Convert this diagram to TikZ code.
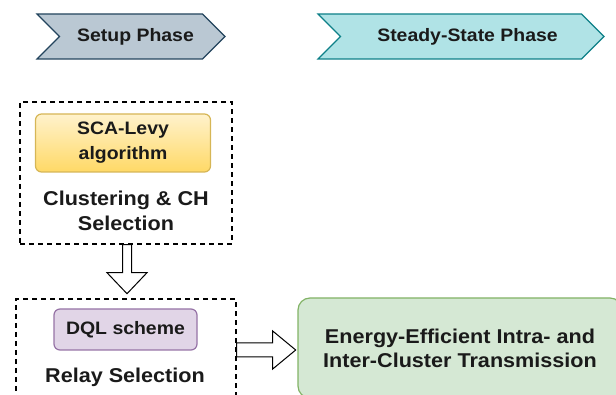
\documentclass[tikz,border=0pt]{standalone}
\usepackage{fontspec}
\setmainfont{Liberation Sans}[FakeStretch=1.08]
\usetikzlibrary{shapes.symbols,positioning}
\definecolor{txt}{HTML}{1A1A1A}
\definecolor{setupfill}{HTML}{BAC8D3}
\definecolor{setupline}{HTML}{23445D}
\definecolor{steadyfill}{HTML}{B0E3E6}
\definecolor{steadyline}{HTML}{0E8088}
\definecolor{scatop}{HTML}{FFF2CC}
\definecolor{scabot}{HTML}{FFD966}
\definecolor{scaline}{HTML}{D6B656}
\definecolor{dqlfill}{HTML}{E1D5E7}
\definecolor{dqlline}{HTML}{9673A6}
\definecolor{txfill}{HTML}{D5E8D4}
\definecolor{txline}{HTML}{82B366}
\tikzset{
  phase/.style={signal, signal to=east, signal from=west, signal pointer angle=90,
    minimum height=45, inner sep=0, line width=1.2, text=txt,
    font=\fontsize{18}{21}\selectfont\bfseries},
  stagebox/.style={draw, dash pattern=on 5pt off 4pt, line width=1.4, inner sep=0},
  methodbox/.style={draw, rounded corners=6, line width=1.2, inner sep=0, align=center,
    text=txt, font=\fontsize{18}{25}\selectfont\bfseries},
  stagelabel/.style={align=center, inner sep=0, text=txt,
    font=\fontsize{20}{25}\selectfont\bfseries},
  fatarrow/.style={draw, fill=white, line width=1, line join=miter}
}
\begin{document}
\begin{tikzpicture}[x=1pt,y=-1pt]
\useasboundingbox (0,0) rectangle (616,395);

\node[phase, fill=setupfill, draw=setupline, minimum width=188] (setup) at (131,36.5) {\hspace*{9pt}Setup Phase};
\node[phase, fill=steadyfill, draw=steadyline, minimum width=286] (steady) at (461,36.5) {\hspace*{13pt}Steady-State Phase};

\node[stagebox, minimum width=212, minimum height=142] (clusterbox) at (126,173) {};
\node[methodbox, top color=scatop, bottom color=scabot, draw=scaline, minimum width=175, minimum height=58] (sca) at (123,143) {SCA-Levy\\algorithm};
\node[stagelabel] (cluster) at (126,211) {Clustering \& CH\\Selection};

\node[stagebox, minimum width=220, minimum height=112] (relaybox) at (126,355) {};
\node[methodbox, fill=dqlfill, draw=dqlline, minimum width=143, minimum height=41] (dql) at (125.5,329.5) {DQL scheme};
\node[stagelabel] (relay) at (125,377) {Relay Selection};

\node[methodbox, rounded corners=12, fill=txfill, draw=txline, minimum width=324, minimum height=100,
  font=\fontsize{20}{24}\selectfont\bfseries] (trans) at (460,348) {Energy-Efficient Intra- and\\Inter-Cluster Transmission};

\draw[fatarrow] ([xshift=1]clusterbox.south) ++(-4.5,0) -- ++(0,28) -- ++(-15.5,0) -- ++(20,21)
  -- ++(20,-21) -- ++(-15.5,0) -- ++(0,-28) -- cycle;
\draw[fatarrow] ([yshift=-2]relaybox.east |- trans.west) ++(0,-7) -- ++(36,0) -- ++(0,-12) -- ++(23,19)
  -- ++(-23,19) -- ++(0,-12) -- ++(-36,0) -- cycle;
\end{tikzpicture}
\end{document}
